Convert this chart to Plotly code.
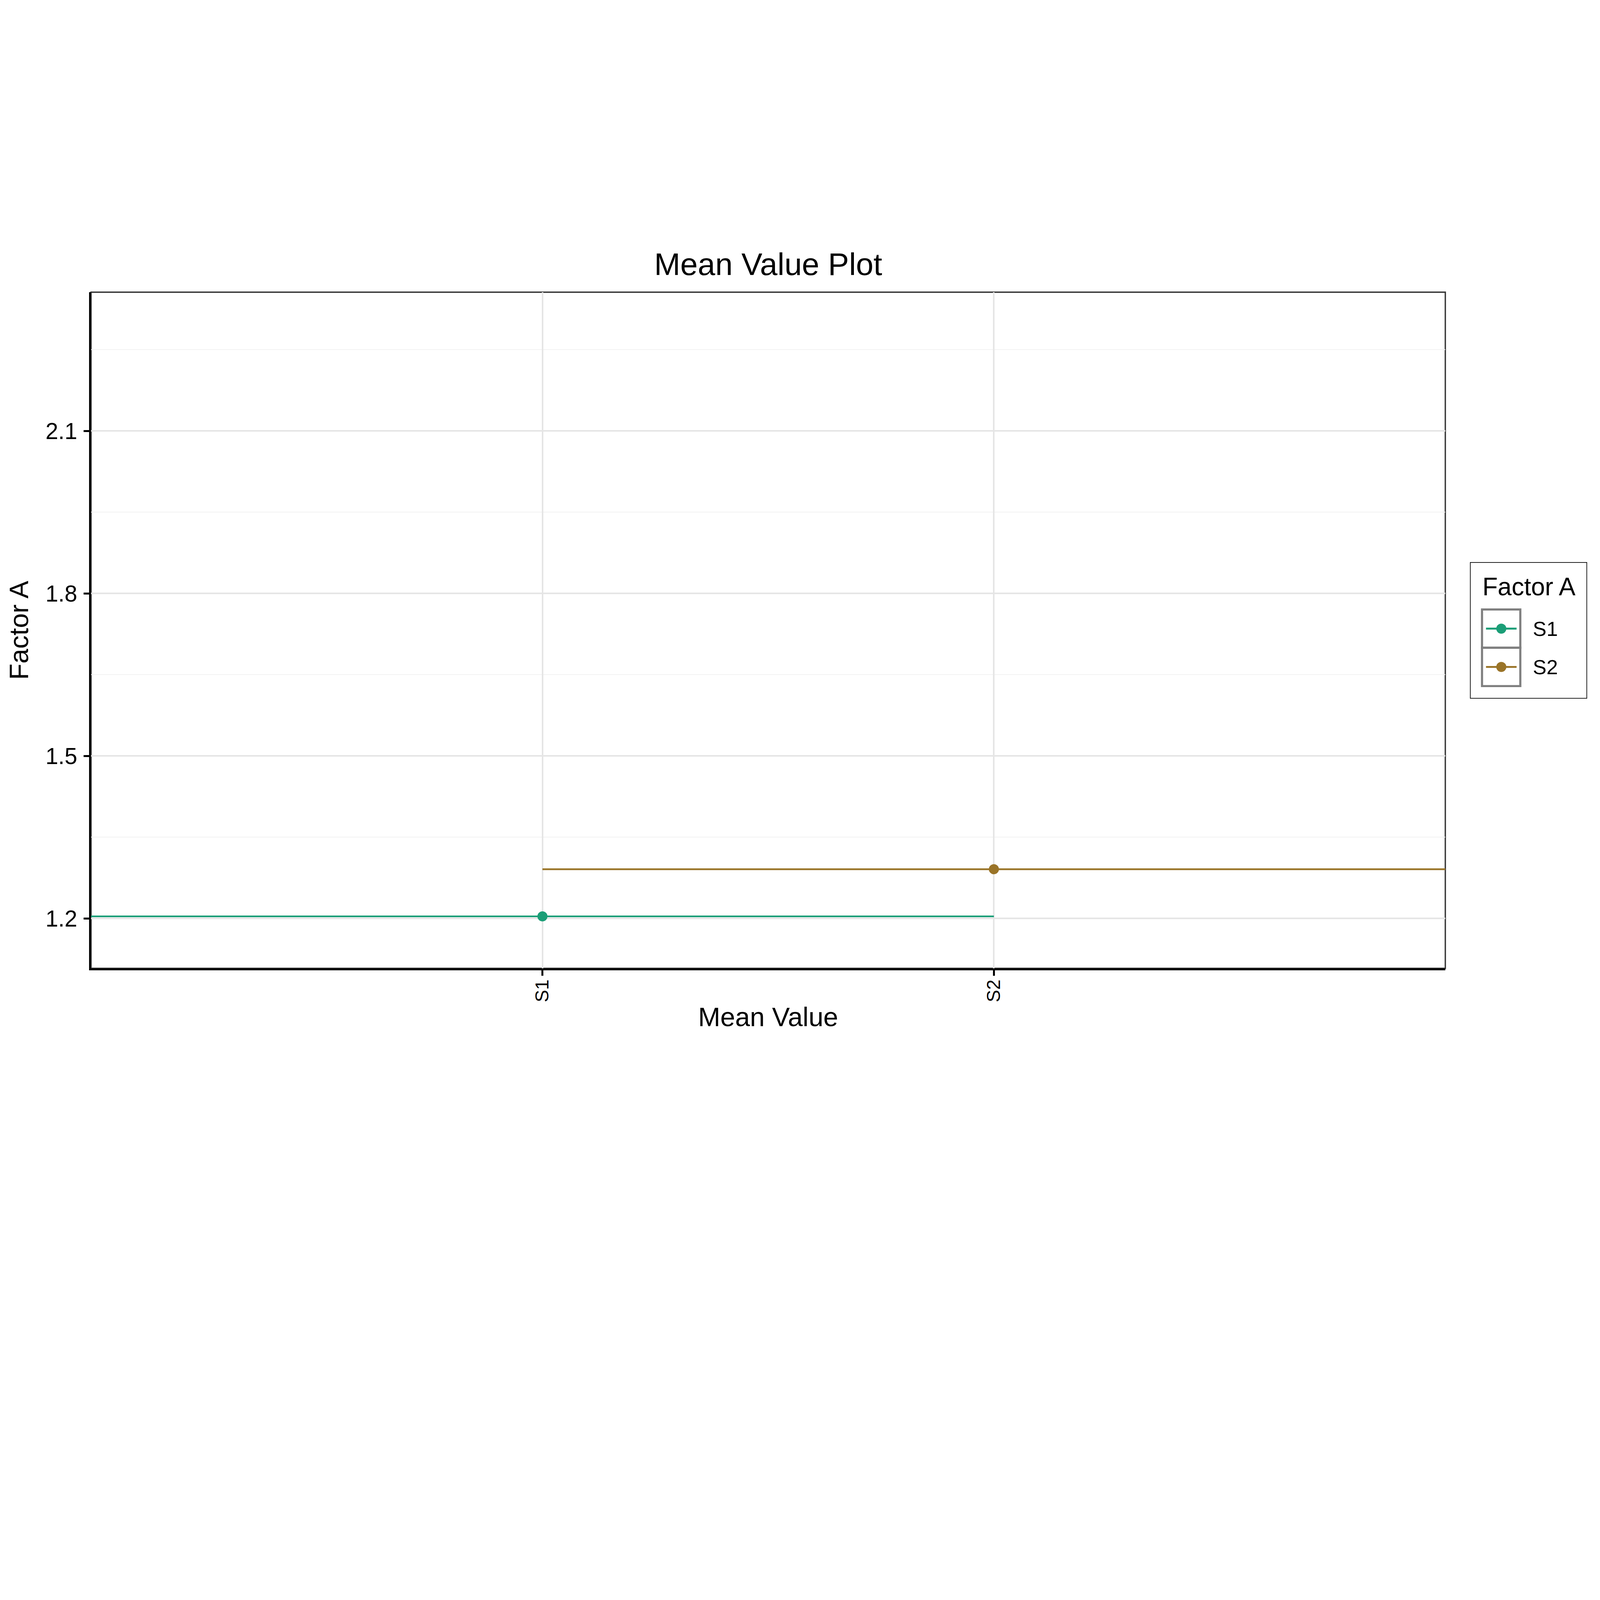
import plotly.graph_objects as go

# ---- data ----
categories = ["S1", "S2"]
mean_values = [1.204, 1.291]
series_names = ["S1", "S2"]
series_colors = ["#1B9E77", "#9A7428"]
legend_title = "Factor A"
y_tick_values = [1.2, 1.5, 1.8, 2.1]
y_tick_labels = ["1.2", "1.5", "1.8", "2.1"]
y_minor_values = [1.35, 1.65, 1.95, 2.25]

FONT = "Liberation Sans, Arial, sans-serif"

# design sizes are given on a 6000x4800 grid and scaled to the page's CSS size
S = 4086 / 6000
def s(v):
    return v * S

W, H = round(s(6000)), round(s(4800))
L, R, T, B = s(330), s(578), s(1086), s(1172)

def px(X):  # design-grid x -> paper fraction
    return (s(X) - L) / (W - L - R)

def py(Y):  # design-grid y (from top) -> paper fraction
    return (H - B - s(Y)) / (H - T - B)

positions = list(range(1, len(categories) + 1))

fig = go.Figure()
for name, pos, val, col in zip(series_names, positions, mean_values, series_colors):
    # horizontal segment spanning one category on each side
    fig.add_trace(go.Scatter(
        x=[pos - 1, pos + 1], y=[val, val], mode="lines",
        line=dict(color=col, width=s(6.5)), showlegend=False,
        hoverinfo="skip"))
    # the mean point
    fig.add_trace(go.Scatter(
        x=[pos], y=[val], mode="markers", name=name,
        marker=dict(color=col, size=s(32), line=dict(color=col, width=s(6))),
        showlegend=False))

# ---- legend drawn as a ggplot-style guide box (decoration) ----
shapes = [dict(type="rect", xref="paper", yref="paper", x0=0, x1=1, y0=0, y1=1,
               line=dict(color="#333333", width=s(5)), layer="below")]
annotations = []

LEG_L, LEG_T, LEG_R, LEG_B = 5516, 2102, 5954, 2613
KEY_L, KEY_R, KEY_T, KEY_H = 5560, 5704, 2279, 144
SEG_L, SEG_R, LABEL_X = 5575, 5690, 5748
TITLE_X, TITLE_BASE = 5558, 2226

shapes.append(dict(type="rect", xref="paper", yref="paper",
                   x0=px(LEG_L), x1=px(LEG_R), y0=py(LEG_B), y1=py(LEG_T),
                   line=dict(color="black", width=s(2.5)), fillcolor="white",
                   layer="above"))
annotations.append(dict(text=legend_title, xref="paper", yref="paper",
                        x=px(TITLE_X), y=py(TITLE_BASE - 0.3465 * 94),
                        xanchor="left", yanchor="middle", showarrow=False,
                        font=dict(size=s(94), family=FONT, color="black")))
for k, (name, col) in enumerate(zip(series_names, series_colors)):
    top = KEY_T + k * KEY_H
    cy = top + KEY_H / 2
    shapes.append(dict(type="rect", xref="paper", yref="paper",
                       x0=px(KEY_L), x1=px(KEY_R), y0=py(top + KEY_H), y1=py(top),
                       line=dict(color="#7F7F7F", width=s(8)), layer="above"))
    shapes.append(dict(type="line", xref="paper", yref="paper",
                       x0=px(SEG_L), x1=px(SEG_R), y0=py(cy), y1=py(cy),
                       line=dict(color=col, width=s(7.3)), layer="above"))
    shapes.append(dict(type="circle", xref="paper", yref="paper",
                       xsizemode="pixel", ysizemode="pixel",
                       xanchor=px((SEG_L + SEG_R) / 2), yanchor=py(cy),
                       x0=-s(19), x1=s(19), y0=-s(19), y1=s(19),
                       fillcolor=col, line=dict(width=0), layer="above"))
    annotations.append(dict(text=name, xref="paper", yref="paper",
                            x=px(LABEL_X), y=py(cy + 1),
                            xanchor="left", yanchor="middle", showarrow=False,
                            font=dict(size=s(77), family=FONT, color="black")))

fig.update_layout(
    width=W, height=H,
    margin=dict(l=L, r=R, t=T, b=B, autoexpand=False),
    paper_bgcolor="white", plot_bgcolor="white",
    font=dict(family=FONT, color="black"),
    showlegend=False,
    title=dict(text="Mean Value Plot", x=0.5, xref="paper", xanchor="center",
               y=1 - 980 / 4800, yref="container", yanchor="middle",
               font=dict(size=s(118), family=FONT, color="black")),
    xaxis=dict(
        range=[0, 3], tickmode="array", tickvals=positions, ticktext=categories,
        tickangle=-90, tickfont=dict(size=s(70)), ticks="outside", ticklen=s(20),
        tickwidth=s(7), tickcolor="black", showline=True, linecolor="black",
        linewidth=s(7), showgrid=True, gridcolor="#E5E5E5", gridwidth=s(6.5),
        zeroline=False, ticklabelstandoff=round(s(-13)),
        title=dict(text="Mean Value", font=dict(size=s(100)), standoff=s(23)),
        automargin=False),
    yaxis=dict(
        range=[1.108, 2.356], tickmode="array", tickvals=y_tick_values,
        ticktext=y_tick_labels, tickfont=dict(size=s(86)), ticks="outside",
        ticklen=s(20), tickwidth=s(7), tickcolor="black", showline=True,
        linecolor="black", linewidth=s(7), showgrid=True, gridcolor="#E5E5E5",
        gridwidth=s(6.5), zeroline=False, ticklabelstandoff=round(s(8)),
        minor=dict(tickvals=y_minor_values, showgrid=True,
                   gridcolor="#F2F2F2", gridwidth=s(3.3), ticks=""),
        title=dict(text="Factor A", font=dict(size=s(100)), standoff=s(34)),
        automargin=False),
    shapes=shapes,
    annotations=annotations,
)

fig.write_html("out.html")
